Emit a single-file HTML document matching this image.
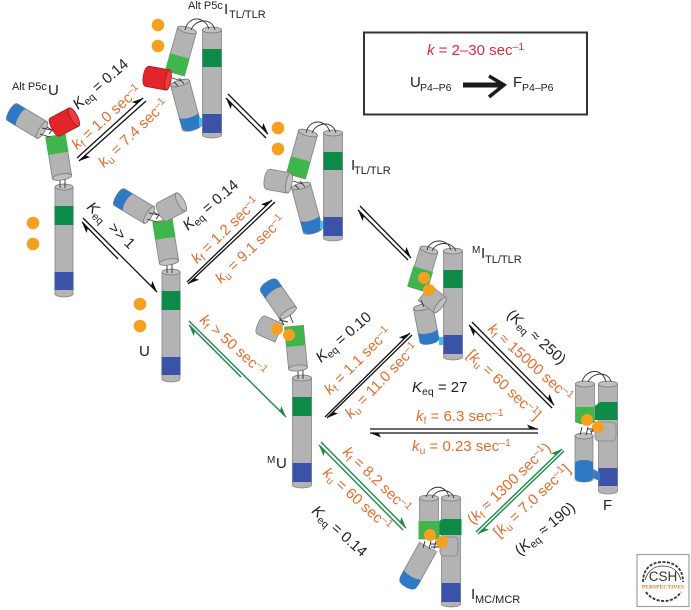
<!DOCTYPE html>
<html><head><meta charset="utf-8">
<style>
html,body{margin:0;padding:0;background:#fff;width:691px;height:610px;overflow:hidden}
svg{display:block}
text{font-family:"Liberation Sans",sans-serif;font-size:15px;fill:#222}
.o{fill:#e26d2e}
.r{fill:#d8293e}
.it{font-style:italic}
.s{font-size:10.5px}
.b{fill:#b3b3b3;stroke:#858585;stroke-width:.8}
.e{fill:#c0c0c0;stroke:#777;stroke-width:.8}
.dg{fill:#0e8a48}
.lg{fill:#3fb54c}
.db{fill:#3a52a8}
.lb{fill:#2f78c4}
.dot{fill:#f6a01f}
.l{fill:none;stroke:#333;stroke-width:.9}
.ar{fill:none;stroke:#111;stroke-width:1.3}
.gr{fill:none;stroke:#1c8a45;stroke-width:1.4}
</style></head><body>
<svg width="691" height="610" viewBox="0 0 691 610" xmlns="http://www.w3.org/2000/svg">
<defs>
<marker id="mk" markerUnits="userSpaceOnUse" markerWidth="16" markerHeight="10" refX="15" refY="7" orient="auto" viewBox="0 0 16 10"><path d="M15 7L4 2.5L6.5 7z" fill="#111"/></marker>
<marker id="mg" markerUnits="userSpaceOnUse" markerWidth="16" markerHeight="10" refX="15" refY="7" orient="auto" viewBox="0 0 16 10"><path d="M15 7L4 2.5L6.5 7z" fill="#1c8a45"/></marker>
<g id="y">
<g transform="translate(64,187)"><path class="b" d="M-9 0V107A9 3 0 0 0 9 107V0z"/><rect class="dg" x="-9.5" y="19" width="19" height="19"/><rect class="db" x="-9.5" y="85" width="19" height="18"/><ellipse class="e" rx="9" ry="3"/></g>
<path class="l" d="M60 177V188M65 177V188"/>
<g transform="translate(62,177) rotate(171) scale(1.08,1)"><path class="b" d="M-9 0V42H9V0z"/><rect class="lg" x="-9.5" y="24" width="19" height="18"/><ellipse class="e" rx="9" ry="3"/></g>
<g transform="translate(42,130) rotate(121) scale(1.08,1)"><path class="b" d="M-9 0V35A9 3 0 0 0 9 35V0z"/><path class="lb" d="M-9 24V33Q-9 38 0 38T9 33V24A9 3 0 0 1 -9 24z"/><ellipse class="e" rx="9" ry="3"/></g>
<path class="l" d="M42 128L52 130L49 134M47 127L55 132M40 134L50 137"/>
</g>
<g id="t">
<g transform="translate(180,83) rotate(-15) scale(1.08,1)"><path class="b" d="M-9 0V46A9 3 0 0 0 9 46V0z"/><path class="lb" d="M-9 33V43Q-9 49 0 49T9 43V33A9 3 0 0 1 -9 33z"/><ellipse class="e" rx="9" ry="3"/></g>
<rect x="199" y="118" width="6" height="8" fill="#3fc0ee"/>
<g transform="translate(212,30)"><path class="b" d="M-9.5 0V105A9.5 3 0 0 0 9.5 105V0z"/><rect class="dg" x="-9.5" y="19" width="19" height="18"/><rect class="db" x="-9.5" y="84" width="19" height="19"/><ellipse class="e" rx="9.5" ry="3"/></g>
<g transform="translate(187,30) rotate(15.6) scale(1.08,1)"><path class="b" d="M-9 0V45H9V0z"/><rect class="lg" x="-9.5" y="27" width="19" height="18"/><ellipse class="e" rx="9" ry="3"/></g>
<path class="l" d="M185 30C188 15 205 16 209 29M191 30C195 19 212 17 215 30"/>
<path class="l" d="M172 78L182 81M174 82L178 86M179 78L184 84"/>
</g>
</defs>

<!-- molecules -->
<use href="#y"/>
<g transform="translate(74,117) rotate(62) scale(1.08,1)"><path d="M-9.5 0V21Q-9.5 25 0 25T9.5 21V0z" fill="#e3242b" stroke="#a81a1f" stroke-width=".8"/><ellipse rx="9.5" ry="3.5" fill="#ee3a3a" stroke="#a81a1f" stroke-width=".8"/></g>
<use href="#y" transform="translate(107,85)"/>
<g transform="translate(181,202) rotate(62) scale(1.08,1)"><path class="b" d="M-9.5 0V21Q-9.5 25 0 25T9.5 21V0z"/><ellipse class="e" rx="9.5" ry="3.5"/></g>

<use href="#t"/>
<g transform="translate(168,80) rotate(100) scale(1.08,1)"><path d="M-9.5 0V20Q-9.5 25 0 25T9.5 20V0z" fill="#e3242b" stroke="#a81a1f" stroke-width=".8"/><ellipse rx="9.5" ry="3" fill="#ee3a3a" stroke="#a81a1f" stroke-width=".8"/></g>
<use href="#t" transform="translate(121,103)"/>
<g transform="translate(289,183) rotate(100) scale(1.08,1)"><path class="b" d="M-9.5 0V20Q-9.5 25 0 25T9.5 20V0z"/><ellipse class="e" rx="9.5" ry="3"/></g>

<!-- MU -->
<g transform="translate(302,378)"><path class="b" d="M-9.5 0V107A9.5 3 0 0 0 9.5 107V0z"/><rect class="dg" x="-9.5" y="19" width="19" height="19"/><rect class="db" x="-9.5" y="85" width="19" height="19"/><ellipse class="e" rx="9.5" ry="3"/></g>
<path class="l" d="M298 368V379M303 368V379"/>
<g transform="translate(298,368) rotate(174.5) scale(1.05,1)"><path class="b" d="M-9 0V42H9V0z"/><rect class="lg" x="-9" y="22" width="18" height="20"/><ellipse class="e" rx="9" ry="3"/></g>
<g transform="translate(288,313) rotate(145) scale(1.12,1)"><path class="b" d="M-9 0V33A9 3 0 0 0 9 33V0z"/><path class="lb" d="M-9 24V33Q-9 38 0 38T9 33V24A9 3 0 0 1 -9 24z"/><ellipse class="e" rx="9" ry="3"/></g>
<g transform="translate(279,333) rotate(114) scale(1.1,1)"><path class="b" d="M-9 0V19Q-9 23 0 23T9 19V0z"/></g>
<path class="l" d="M280 318L284 325M290 315L293 323M279 320L288 322"/>
<circle class="dot" cx="277" cy="329" r="6"/><circle class="dot" cx="289" cy="335" r="6"/>

<!-- MI -->
<g transform="translate(423,307) rotate(-11) scale(1.08,1)"><path class="b" d="M-9 0V34A9 3 0 0 0 9 34V0z"/><path class="lb" d="M-9 24V33Q-9 38 0 38T9 33V24A9 3 0 0 1 -9 24z"/><ellipse class="e" rx="9" ry="3"/></g>
<rect x="439" y="337" width="6" height="8" fill="#3fc0ee"/>
<g transform="translate(453,251)"><path class="b" d="M-9.5 0V106A9.5 3 0 0 0 9.5 106V0z"/><rect class="dg" x="-9.5" y="19" width="19" height="18"/><rect class="db" x="-9.5" y="84" width="19" height="19"/><ellipse class="e" rx="9.5" ry="3"/></g>
<g transform="translate(429,250) rotate(17) scale(1.08,1)"><path class="b" d="M-8.5 0V41H8.5V0z"/><rect class="lg" x="-9.5" y="20" width="19" height="21"/><ellipse class="e" rx="8.5" ry="3"/></g>
<g transform="translate(440,305) rotate(128) scale(1.08,1)"><path class="b" d="M-9 0V20H9V0z"/><ellipse class="e" rx="9" ry="3"/></g>
<path class="l" d="M427 250C430 238 448 238 451 250M432 251C436 241 452 241 456 251M421 300L424 307"/>
<circle class="dot" cx="424" cy="278" r="6"/><circle class="dot" cx="429" cy="290" r="6"/>

<!-- F -->
<g transform="translate(608,384)"><path class="b" d="M-9.5 0V107A9.5 3 0 0 0 9.5 107V0z"/><path class="dg" d="M-13 22L-8 18H9.5V36H-13z"/><rect class="db" x="-9.5" y="84" width="19" height="18"/><ellipse class="e" rx="9.5" ry="3"/></g>
<path d="M592 468L600 473V481L592 478z" fill="#3a7dc4"/>
<g transform="translate(584,436)"><path class="b" d="M-9 0V43A9 3 0 0 0 9 43V0z"/><path class="lb" d="M-9 28V40Q-9 46 0 46T9 40V28Q9 24 0 24T-9 28z"/><ellipse class="e" rx="9" ry="3"/></g>
<g transform="translate(585,384)"><path class="b" d="M-9.5 0V38Q0 42 9.5 38V0z"/><path class="lg" d="M-9.5 23H9.5V38Q0 42 -9.5 38z"/><ellipse class="e" rx="9.5" ry="3"/></g>
<rect class="b" x="595" y="422" width="21" height="19" rx="4"/>
<path class="l" d="M582 382C586 368 603 368 606 382M588 382C592 372 609 371 611 382M580 435L582 427M586 435L588 427M591 434L594 426M587 429H596M590 431H596"/>
<circle class="dot" cx="587" cy="420" r="6"/><circle class="dot" cx="598" cy="427" r="6"/>

<!-- IMC -->
<g transform="translate(451,498)"><path class="b" d="M-9.5 0V106A9.5 3 0 0 0 9.5 106V0z"/><path class="dg" d="M-12 23L-8 21H10.5V37H-12z"/><rect class="db" x="-9.5" y="85" width="19" height="19"/><ellipse class="e" rx="9.5" ry="3"/></g>
<g transform="translate(428,547) rotate(29) scale(1.08,1)"><path class="b" d="M-9 0V39A9 3 0 0 0 9 39V0z"/><path class="lb" d="M-9 31V40Q-9 46 0 46T9 40V31A9 3 0 0 1 -9 31z"/></g>
<g transform="translate(429,498)"><path class="b" d="M-9.5 0V41H9.5V0z"/><rect class="lg" x="-10.5" y="23" width="21" height="18"/><ellipse class="e" rx="9.5" ry="3"/></g>
<rect class="b" x="440" y="537" width="18" height="19" rx="4"/>
<path class="l" d="M426 497C430 484 446 484 449 497M432 498C436 488 451 488 454 498M423 548L425 541M429 549L431 541M434 549L436 541M430 544H440M431 547H440"/>
<circle class="dot" cx="430" cy="535" r="6"/><circle class="dot" cx="442" cy="542" r="6"/>

<!-- free magnesium dots -->
<circle class="dot" cx="33" cy="223" r="6.3"/><circle class="dot" cx="33" cy="244" r="6.3"/>
<circle class="dot" cx="158" cy="25" r="6.3"/><circle class="dot" cx="158" cy="46" r="6.3"/>
<circle class="dot" cx="278" cy="128" r="6.3"/><circle class="dot" cx="278" cy="149" r="6.3"/>
<circle class="dot" cx="140" cy="304" r="6.3"/><circle class="dot" cx="140" cy="326" r="6.3"/>

<!-- arrows -->
<line class="ar" x1="77" y1="158" x2="143" y2="98" marker-end="url(#mk)"/>
<line class="ar" x1="146" y1="101" x2="79" y2="161" marker-end="url(#mk)"/>
<line class="ar" x1="228" y1="94" x2="268" y2="134" marker-end="url(#mk)"/>
<line class="ar" x1="266" y1="138" x2="226" y2="98" marker-end="url(#mk)"/>
<line class="ar" x1="118" y1="259" x2="82" y2="222" marker-end="url(#mk)"/>
<line class="ar" x1="83" y1="218" x2="157" y2="292" marker-end="url(#mk)"/>
<line class="ar" x1="187" y1="282" x2="272" y2="200" marker-end="url(#mk)"/>
<line class="ar" x1="275" y1="202" x2="188" y2="284" marker-end="url(#mk)"/>
<line class="ar" x1="360" y1="206" x2="411" y2="258" marker-end="url(#mk)"/>
<line class="ar" x1="408" y1="260" x2="358" y2="210" marker-end="url(#mk)"/>
<line class="ar" x1="325" y1="417" x2="410" y2="333" marker-end="url(#mk)"/>
<line class="ar" x1="412" y1="335" x2="327" y2="418" marker-end="url(#mk)"/>
<line class="ar" x1="370" y1="429" x2="538" y2="429" marker-end="url(#mk)"/>
<line class="ar" x1="538" y1="433" x2="370" y2="433" marker-end="url(#mk)"/>
<line class="ar" x1="472" y1="322" x2="554" y2="405" marker-end="url(#mk)"/>
<line class="ar" x1="552" y1="408" x2="469" y2="325" marker-end="url(#mk)"/>
<line class="gr" x1="189" y1="321" x2="286" y2="417" marker-end="url(#mg)"/>
<line class="gr" x1="241" y1="377" x2="189" y2="325" marker-end="url(#mg)"/>
<line class="gr" x1="321" y1="442" x2="406" y2="528" marker-end="url(#mg)"/>
<line class="gr" x1="403" y1="530" x2="319" y2="445" marker-end="url(#mg)"/>
<line class="gr" x1="476" y1="532" x2="562" y2="449" marker-end="url(#mg)"/>
<line class="gr" x1="564" y1="451" x2="478" y2="534" marker-end="url(#mg)"/>

<!-- rate labels -->
<text transform="translate(78,110) rotate(-41)"><tspan class="it">K</tspan><tspan class="s" dy="3">eq</tspan><tspan dy="-3"> = 0.14</tspan></text>
<text class="o" transform="translate(77,150) rotate(-42)"><tspan class="it">k</tspan><tspan class="s" dy="3">f</tspan><tspan dy="-3"> = 1.0 sec</tspan><tspan class="s" dy="-5">–1</tspan></text>
<text class="o" transform="translate(104,168) rotate(-44)"><tspan class="it">k</tspan><tspan class="s" dy="3">u</tspan><tspan dy="-3"> = 7.4 sec</tspan><tspan class="s" dy="-5">–1</tspan></text>
<text transform="translate(188,231) rotate(-41)"><tspan class="it">K</tspan><tspan class="s" dy="3">eq</tspan><tspan dy="-3"> = 0.14</tspan></text>
<text class="o" transform="translate(197,264) rotate(-44)"><tspan class="it">k</tspan><tspan class="s" dy="3">f</tspan><tspan dy="-3"> = 1.2 sec</tspan><tspan class="s" dy="-5">–1</tspan></text>
<text class="o" transform="translate(221,284) rotate(-44)"><tspan class="it">k</tspan><tspan class="s" dy="3">u</tspan><tspan dy="-3"> = 9.1 sec</tspan><tspan class="s" dy="-5">–1</tspan></text>
<text transform="translate(86,208) rotate(44)"><tspan class="it">K</tspan><tspan class="s" dy="3">eq</tspan><tspan dy="-3" xml:space="preserve">  &gt;&gt; 1</tspan></text>
<text class="o" transform="translate(199,321) rotate(42)"><tspan class="it">k</tspan><tspan class="s" dy="3">f</tspan><tspan dy="-3"> &gt; 50 sec</tspan><tspan class="s" dy="-5">–1</tspan></text>
<text transform="translate(321,363) rotate(-41)"><tspan class="it">K</tspan><tspan class="s" dy="3">eq</tspan><tspan dy="-3"> = 0.10</tspan></text>
<text class="o" transform="translate(330,395) rotate(-45)"><tspan class="it">k</tspan><tspan class="s" dy="3">f</tspan><tspan dy="-3"> = 1.1 sec</tspan><tspan class="s" dy="-5">–1</tspan></text>
<text class="o" transform="translate(351,419) rotate(-46)"><tspan class="it">k</tspan><tspan class="s" dy="3">u</tspan><tspan dy="-3"> = 11.0 sec</tspan><tspan class="s" dy="-5">–1</tspan></text>
<text x="412" y="392"><tspan class="it">K</tspan><tspan class="s" dy="3">eq</tspan><tspan dy="-3"> = 27</tspan></text>
<text class="o" x="416" y="421"><tspan class="it">k</tspan><tspan class="s" dy="3">f</tspan><tspan dy="-3"> = 6.3 sec</tspan><tspan class="s" dy="-5">–1</tspan></text>
<text class="o" x="412" y="451"><tspan class="it">k</tspan><tspan class="s" dy="3">u</tspan><tspan dy="-3"> = 0.23 sec</tspan><tspan class="s" dy="-5">–1</tspan></text>
<text class="o" transform="translate(342,453) rotate(44)"><tspan class="it">k</tspan><tspan class="s" dy="3">f</tspan><tspan dy="-3"> = 8.2 sec</tspan><tspan class="s" dy="-5">–1</tspan></text>
<text class="o" transform="translate(322,474) rotate(42)"><tspan class="it">k</tspan><tspan class="s" dy="3">u</tspan><tspan dy="-3"> = 60 sec</tspan><tspan class="s" dy="-5">–1</tspan></text>
<text transform="translate(311,512) rotate(42)"><tspan class="it">K</tspan><tspan class="s" dy="3">eq</tspan><tspan dy="-3"> = 0.14</tspan></text>
<text class="o" transform="translate(487,330) rotate(42)"><tspan class="it">k</tspan><tspan class="s" dy="3">f</tspan><tspan dy="-3"> ≈ 15000 sec</tspan><tspan class="s" dy="-5">–1</tspan></text>
<text class="o" transform="translate(466,356) rotate(43)">[<tspan class="it">k</tspan><tspan class="s" dy="3">u</tspan><tspan dy="-3"> = 60 sec</tspan><tspan class="s" dy="-5">–1</tspan><tspan dy="5">]</tspan></text>
<text transform="translate(506,316) rotate(42)">(<tspan class="it">K</tspan><tspan class="s" dy="3">eq</tspan><tspan dy="-3"> ≈ 250)</tspan></text>
<text class="o" transform="translate(473,525) rotate(-44)">(<tspan class="it">k</tspan><tspan class="s" dy="3">f</tspan><tspan dy="-3"> ≈ 1300 sec</tspan><tspan class="s" dy="-5">–1</tspan><tspan dy="5">)</tspan></text>
<text class="o" transform="translate(499,538) rotate(-43)">[<tspan class="it">k</tspan><tspan class="s" dy="3">u</tspan><tspan dy="-3"> = 7.0 sec</tspan><tspan class="s" dy="-5">–1</tspan><tspan dy="5">]</tspan></text>
<text transform="translate(520,556) rotate(-40)">(<tspan class="it">K</tspan><tspan class="s" dy="3">eq</tspan><tspan dy="-3"> ≈ 190)</tspan></text>

<!-- species labels -->
<text x="12" y="90" style="font-size:11px">Alt P5c</text><text x="48" y="95">U</text>
<text x="188" y="9" style="font-size:11px">Alt P5c</text><text x="224" y="14">I</text><text x="229" y="18" style="font-size:11px">TL/TLR</text>
<text x="351" y="170">I</text><text x="354" y="174" style="font-size:11px">TL/TLR</text>
<text x="472" y="253" style="font-size:10px">M</text><text x="481" y="258">I</text><text x="485" y="263" style="font-size:11px">TL/TLR</text>
<text x="139" y="356">U</text>
<text x="267" y="463" style="font-size:10px">M</text><text x="276" y="468">U</text>
<text x="603" y="510">F</text>
<text x="471" y="599">I</text><text x="475" y="603" style="font-size:11px">MC/MCR</text>

<!-- inset box -->
<rect x="364" y="32.5" width="223" height="82" fill="none" stroke="#333" stroke-width="2"/>
<text class="r" x="427" y="55"><tspan class="it">k</tspan> = 2–30 sec<tspan class="s" dy="-5">–1</tspan></text>
<text x="410" y="87">U</text><text x="420" y="91" style="font-size:10.5px">P4–P6</text>
<path d="M463 85H502" stroke="#1a1a1a" stroke-width="5" fill="none"/>
<path d="M489 76L504 85L489 97" stroke="#1a1a1a" stroke-width="3.5" fill="none"/>
<text x="513" y="87">F</text><text x="522" y="91" style="font-size:10.5px">P4–P6</text>

<!-- CSH logo -->
<rect x="637" y="554.5" width="52" height="52" fill="#fff" stroke="#a0a0a0" stroke-width="1.2"/>
<path d="M643 582C643 568 652 562 663 562S683 568 683 582" fill="none" stroke="#333" stroke-width="1.8" stroke-dasharray="3 1.5"/>
<path d="M645 580C648 570 655 566 663 566S678 570 681 580" fill="none" stroke="#333" stroke-width=".8"/>
<path d="M646 592C650 598 657 601 664 601S677 598 681 592" fill="none" stroke="#333" stroke-width="1.8" stroke-dasharray="3 1.5"/>
<text x="663" y="581" text-anchor="middle" style="font-size:13.5px;fill:#333">CSH</text>
<text x="663" y="588.5" text-anchor="middle" style="font-size:5.6px;font-family:'Liberation Serif',serif;font-weight:bold;fill:#c77a2a">PERSPECTIVES</text>
</svg>
</body></html>
